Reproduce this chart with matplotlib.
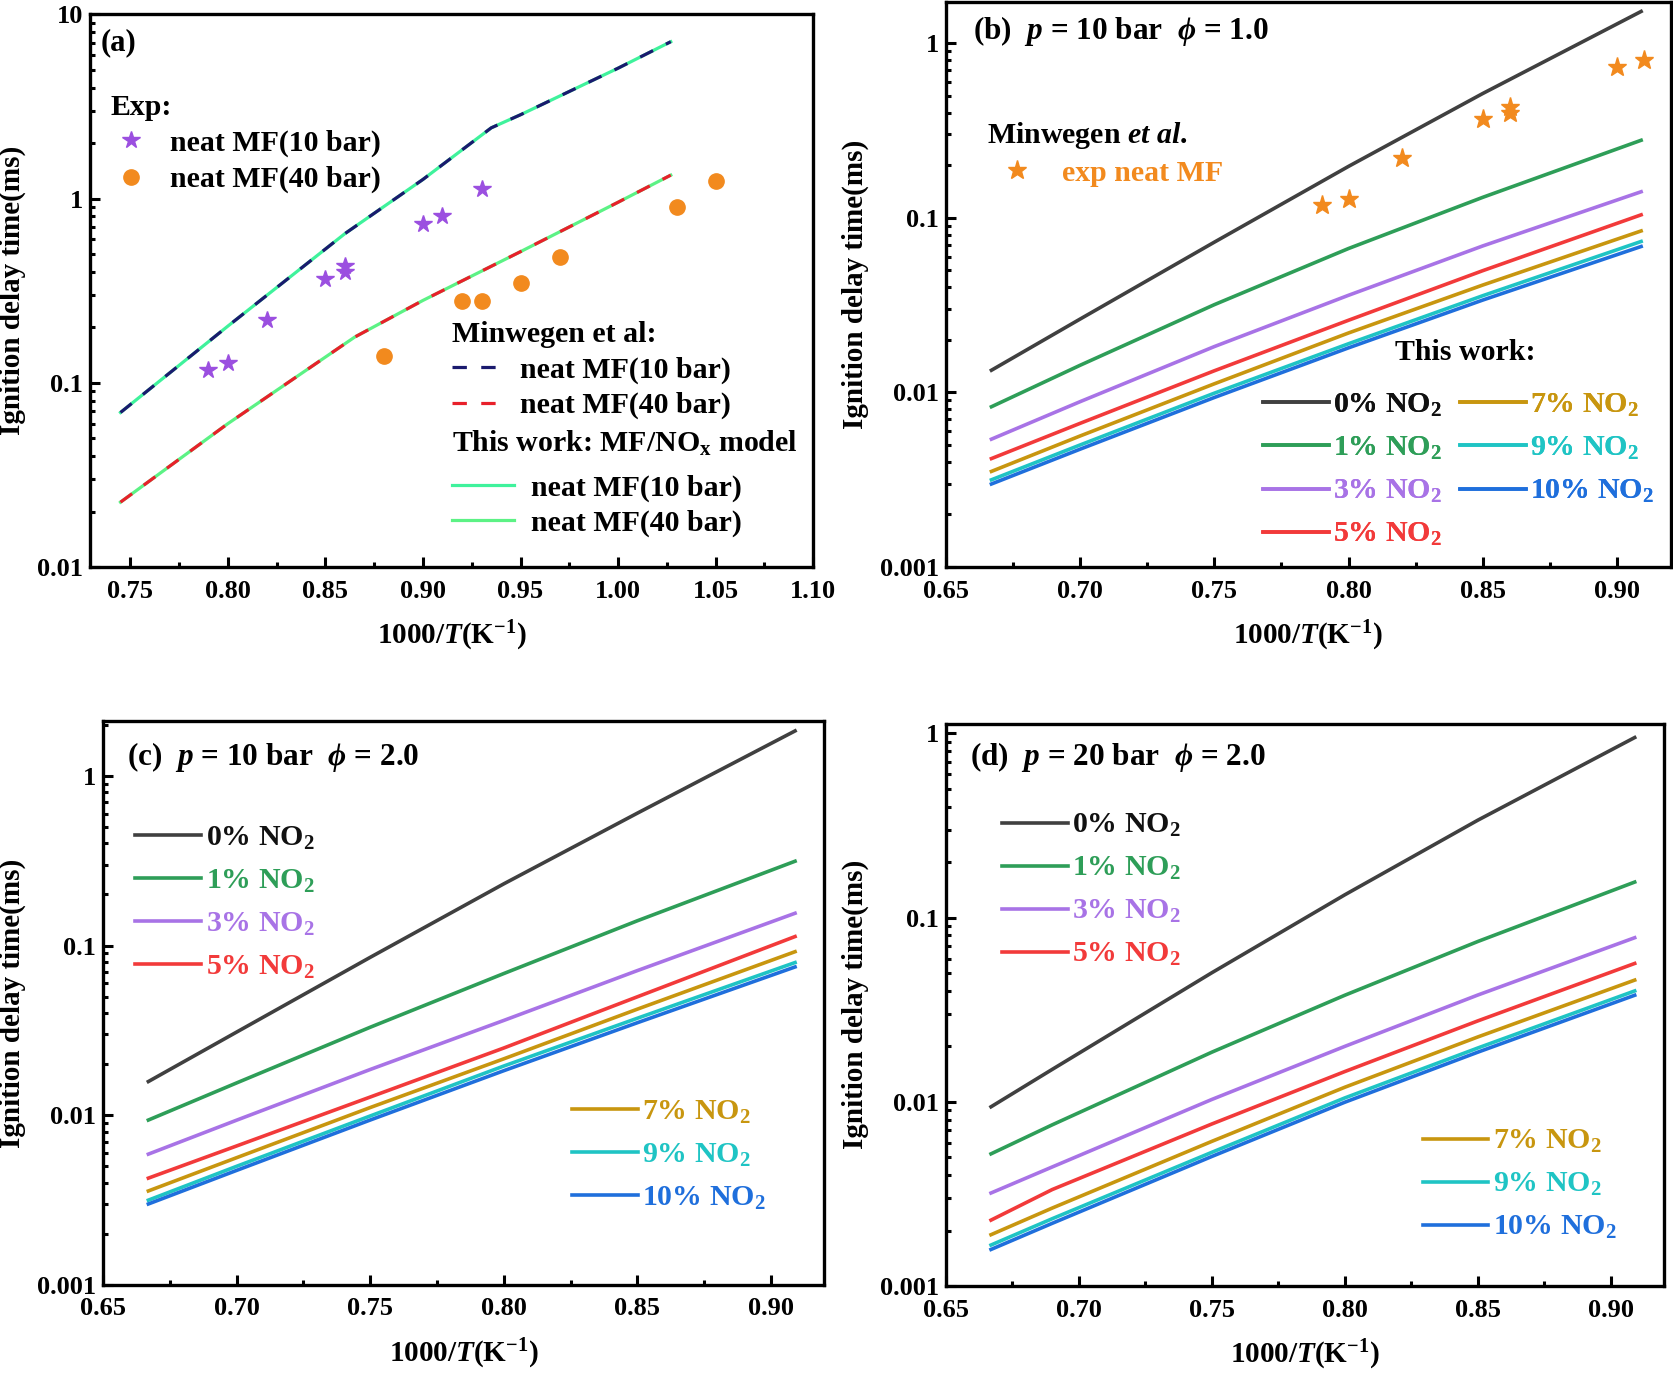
import matplotlib
matplotlib.use('Agg')
import matplotlib.pyplot as plt
from matplotlib.lines import Line2D
from matplotlib.ticker import MultipleLocator, LogLocator, NullFormatter, FuncFormatter, FormatStrFormatter

plt.rcParams['font.family'] = ['Liberation Serif', 'DejaVu Serif']
plt.rcParams['font.weight'] = 'bold'
plt.rcParams['axes.labelweight'] = 'bold'
plt.rcParams['mathtext.fontset'] = 'custom'
plt.rcParams['mathtext.rm'] = 'Liberation Serif:bold'
plt.rcParams['mathtext.it'] = 'Liberation Serif:italic:bold'
plt.rcParams['mathtext.bf'] = 'Liberation Serif:bold'
plt.rcParams['axes.linewidth'] = 2.4

# ---------- panel (a) data ----------
exp10_x = [0.79, 0.80, 0.82, 0.85, 0.86, 0.86, 0.90, 0.91, 0.93]
exp10_tau = [0.118, 0.128, 0.218, 0.368, 0.40, 0.431, 0.726, 0.80, 1.12]
exp40_x = [0.88, 0.92, 0.93, 0.95, 0.97, 1.03, 1.05]
exp40_tau = [0.139, 0.279, 0.279, 0.348, 0.479, 0.895, 1.25]

mod10_x = [0.745, 0.80, 0.86, 0.90, 0.935, 0.95, 1.00, 1.027]
minw10_tau = [0.069, 0.203, 0.645, 1.27, 2.42, 2.85, 5.1, 7.1]
work10_tau = [0.069, 0.203, 0.645, 1.27, 2.42, 2.85, 5.1, 7.1]
mod40_x = [0.745, 0.80, 0.865, 0.90, 0.95, 1.00, 1.027]
minw40_tau = [0.0225, 0.06, 0.177, 0.28, 0.515, 0.955, 1.34]
work40_tau = [0.0225, 0.06, 0.177, 0.28, 0.515, 0.955, 1.34]

# ---------- panels (b)-(d) data ----------
no2_labels = ['0% NO$_2$', '1% NO$_2$', '3% NO$_2$', '5% NO$_2$',
              '7% NO$_2$', '9% NO$_2$', '10% NO$_2$']
no2_colors = ['#404040', '#2e9e58', '#a873e6', '#f23a3a',
              '#c8960f', '#1fc4c4', '#1f6fdc']
no2_text_colors = ['#111111', '#2e9e58', '#a873e6', '#f23a3a',
                   '#c8960f', '#1fc4c4', '#1f6fdc']

x_bc = [0.667, 0.70, 0.75, 0.80, 0.85, 0.909]
tau_b = [
    [0.0134, 0.0263, 0.0725, 0.197, 0.515, 1.52],
    [0.00828, 0.0143, 0.0318, 0.0667, 0.131, 0.278],
    [0.0054, 0.00885, 0.0183, 0.036, 0.069, 0.141],
    [0.00418, 0.00665, 0.0133, 0.0259, 0.0498, 0.104],
    [0.00353, 0.00563, 0.0112, 0.0219, 0.0412, 0.0841],
    [0.00316, 0.005, 0.0099, 0.019, 0.0358, 0.0732],
    [0.00299, 0.00473, 0.00935, 0.018, 0.0338, 0.0685],
]
expb_x = [0.79, 0.80, 0.82, 0.85, 0.86, 0.86, 0.90, 0.91]
expb_tau = [0.118, 0.128, 0.22, 0.37, 0.40, 0.43, 0.73, 0.80]

tau_c = [
    [0.0158, 0.0309, 0.0852, 0.231, 0.603, 1.84],
    [0.00937, 0.0155, 0.033, 0.0684, 0.14, 0.314],
    [0.0059, 0.00935, 0.0186, 0.0362, 0.0712, 0.155],
    [0.00426, 0.00659, 0.0128, 0.0249, 0.0499, 0.113],
    [0.00358, 0.00562, 0.0111, 0.0215, 0.0422, 0.092],
    [0.00316, 0.005, 0.0099, 0.0195, 0.0373, 0.0794],
    [0.003, 0.00473, 0.00937, 0.0183, 0.0351, 0.0748],
]

x_d = [0.667, 0.69, 0.75, 0.80, 0.85, 0.909]
tau_d = [
    [0.0094, 0.015, 0.0502, 0.133, 0.338, 0.95],
    [0.00522, 0.0075, 0.0186, 0.0379, 0.0742, 0.156],
    [0.0032, 0.00443, 0.0103, 0.02, 0.038, 0.0778],
    [0.00228, 0.00334, 0.00758, 0.0146, 0.0275, 0.0564],
    [0.0019, 0.00265, 0.0061, 0.012, 0.0225, 0.0458],
    [0.00167, 0.00232, 0.00532, 0.0105, 0.0196, 0.04],
    [0.00158, 0.00219, 0.00505, 0.00995, 0.0186, 0.0379],
]

LEG = 21.5


def style_axes(ax, xlim, ylim):
    ax.set_yscale('log')
    ax.set_xlim(xlim)
    ax.set_ylim(ylim)
    ax.xaxis.set_major_locator(MultipleLocator(0.05))
    ax.xaxis.set_minor_locator(MultipleLocator(0.025))
    ax.xaxis.set_major_formatter(FormatStrFormatter('%.2f'))
    ax.yaxis.set_major_locator(LogLocator(base=10, numticks=10))
    ax.yaxis.set_minor_locator(LogLocator(base=10, subs=range(2, 10), numticks=20))
    ax.yaxis.set_major_formatter(FuncFormatter(lambda v, p: f'{v:g}'))
    ax.yaxis.set_minor_formatter(NullFormatter())
    ax.tick_params(which='both', direction='in', top=False, right=False, width=2.2)
    ax.tick_params(which='major', length=7, labelsize=19)
    ax.tick_params(axis='x', which='major', pad=9)
    ax.tick_params(axis='y', which='major', pad=5)
    ax.tick_params(which='minor', length=3.5)
    ax.set_xlabel('1000/$T$(K$^{-1}$)', fontsize=21, labelpad=12)
    ax.set_ylabel('Ignition delay time(ms)', fontsize=21, labelpad=8)


def no2_legends(ax, pos1, pos2, idx1, idx2, ncol1=1):
    hs = [Line2D([], [], color=c, lw=2.6) for c in no2_colors]
    kw = dict(frameon=False, handlelength=2.2,
              handletextpad=0.15, borderpad=0, borderaxespad=0,
              labelspacing=0.53, prop={'size': LEG, 'weight': 'bold'})
    l1 = ax.legend([hs[i] for i in idx1], [no2_labels[i] for i in idx1],
                   loc='upper left', bbox_to_anchor=pos1, ncol=ncol1,
                   columnspacing=0.6, **kw)
    for t, i in zip(l1.get_texts(), idx1):
        t.set_color(no2_text_colors[i])
    ax.add_artist(l1)
    if idx2:
        l2 = ax.legend([hs[i] for i in idx2], [no2_labels[i] for i in idx2],
                       loc='upper left', bbox_to_anchor=pos2, **kw)
        for t, i in zip(l2.get_texts(), idx2):
            t.set_color(no2_text_colors[i])


fig = plt.figure(figsize=(16.74, 13.75), dpi=100)
ax_a = fig.add_axes([0.0538, 0.5876, 0.432, 0.402])
ax_b = fig.add_axes([0.565, 0.5876, 0.433, 0.4109])
ax_c = fig.add_axes([0.0615, 0.0655, 0.431, 0.410])
ax_d = fig.add_axes([0.565, 0.0647, 0.429, 0.409])

# ----- (a) -----
ax = ax_a
ax.plot(mod10_x, work10_tau, color='#3ff29c', lw=2.3, zorder=2)
ax.plot(mod40_x, work40_tau, color='#5cf285', lw=2.3, zorder=2)
ax.plot(mod10_x, minw10_tau, color='#1a1a6e', lw=2.3, dashes=(4.5, 4.5), zorder=3)
ax.plot(mod40_x, minw40_tau, color='#e8202a', lw=2.3, dashes=(4.5, 4.5), zorder=3)
ax.plot(exp10_x, exp10_tau, ls='none', marker='*', ms=13, color='#9b4fe0', zorder=4)
ax.plot(exp40_x, exp40_tau, ls='none', marker='o', ms=11, color='#f28a1e', zorder=4)
style_axes(ax, (0.7294, 1.10), (0.01, 10))
ax.text(0.014, 0.949, '(a)', transform=ax.transAxes, fontsize=22, va='center')

legkw = dict(frameon=False, borderpad=0, borderaxespad=0, alignment='left',
             prop={'size': LEG, 'weight': 'bold'}, title_fontsize=LEG)
h_s = Line2D([], [], ls='none', marker='*', ms=13, color='#9b4fe0')
h_c = Line2D([], [], ls='none', marker='o', ms=11, color='#f28a1e')
l = ax.legend([h_s, h_c], ['neat MF(10 bar)', 'neat MF(40 bar)'], title='Exp:',
              loc='upper left', bbox_to_anchor=(0.028, 0.856),
              handlelength=1.4, handletextpad=0.6, labelspacing=0.3, **legkw)
ax.add_artist(l)
h_d1 = Line2D([], [], color='#1a1a6e', lw=2.3, dashes=(4.5, 4.5))
h_d2 = Line2D([], [], color='#e8202a', lw=2.3, dashes=(4.5, 4.5))
l = ax.legend([h_d1, h_d2], ['neat MF(10 bar)', 'neat MF(40 bar)'], title='Minwegen et al:',
              loc='upper left', bbox_to_anchor=(0.5, 0.445),
              handlelength=1.5, handletextpad=0.8, labelspacing=0.28, **legkw)
ax.add_artist(l)
ax.text(0.5, 0.224, r'This work: MF/NO$_\mathrm{x}$ model', transform=ax.transAxes,
        fontsize=LEG, va='center')
h_g1 = Line2D([], [], color='#3ff29c', lw=2.3)
h_g2 = Line2D([], [], color='#5cf285', lw=2.3)
legkw2 = {k: v for k, v in legkw.items() if k not in ('alignment', 'title_fontsize')}
ax.legend([h_g1, h_g2], ['neat MF(10 bar)', 'neat MF(40 bar)'],
          loc='upper left', bbox_to_anchor=(0.5, 0.168),
          handlelength=2.1, handletextpad=0.55, labelspacing=0.28, **legkw2)

# ----- (b) -----
ax = ax_b
for tau, c in zip(tau_b, no2_colors):
    ax.plot(x_bc, tau, color=c, lw=2.6)
ax.plot(expb_x, expb_tau, ls='none', marker='*', ms=14, color='#f28a1e', zorder=4)
style_axes(ax, (0.65, 0.92), (0.001, 1.72))
ax.text(0.037, 0.948, r'(b)  $p$ = 10 bar  $\phi$ = 1.0', transform=ax.transAxes,
        fontsize=22.5, va='center')
h_b = Line2D([], [], ls='none', marker='*', ms=14, color='#f28a1e')
l = ax.legend([h_b], ['exp neat MF'], title=r'Minwegen $\mathit{et\ al.}$',
              loc='upper left', bbox_to_anchor=(0.057, 0.792), labelcolor='#f28a1e',
              handlelength=2.0, handletextpad=0.5, labelspacing=0.3, **legkw)
ax.add_artist(l)
ax.text(0.62, 0.379, 'This work:', transform=ax.transAxes, fontsize=LEG, va='center')
no2_legends(ax, (0.438, 0.31), None, [0, 1, 2, 3, 4, 5, 6], [], ncol1=2)

# ----- (c) -----
ax = ax_c
for tau, c in zip(tau_c, no2_colors):
    ax.plot(x_bc, tau, color=c, lw=2.6)
style_axes(ax, (0.65, 0.92), (0.001, 2.1))
ax.text(0.033, 0.936, r'(c)  $p$ = 10 bar  $\phi$ = 2.0', transform=ax.transAxes,
        fontsize=22.5, va='center')
no2_legends(ax, (0.045, 0.817), (0.65, 0.331), [0, 1, 2, 3], [4, 5, 6])

# ----- (d) -----
ax = ax_d
for tau, c in zip(tau_d, no2_colors):
    ax.plot(x_d, tau, color=c, lw=2.6)
style_axes(ax, (0.65, 0.92), (0.001, 1.13))
ax.text(0.033, 0.94, r'(d)  $p$ = 20 bar  $\phi$ = 2.0', transform=ax.transAxes,
        fontsize=22.5, va='center')
no2_legends(ax, (0.078, 0.843), (0.664, 0.281), [0, 1, 2, 3], [4, 5, 6])

fig.savefig('out.png', dpi=100)
